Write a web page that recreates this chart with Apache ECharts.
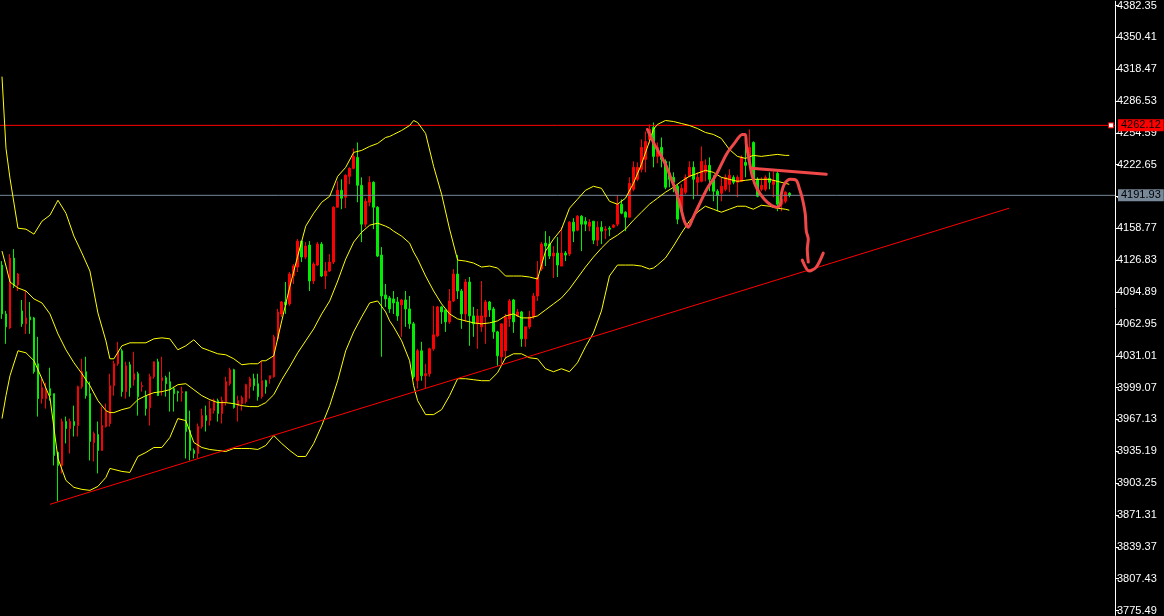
<!DOCTYPE html>
<html>
<head>
<meta charset="utf-8">
<script src="https://cdn.jsdelivr.net/npm/echarts@6/dist/echarts.min.js"></script>
<style>
  html, body { margin: 0; padding: 0; background: #000; }
  #chart { width: 1164px; height: 616px; }
</style>
</head>
<body>
<div id="chart"></div>
<script>
// candles (index 0..197), red = up, green = down
const opens = [
  4122,4073,4059,4129,4102,4076,4063,4070,4069,4023,
  3988,3988,3998,3993,3934,3921,3965,3958,3965,3961,
  4000,4015,3993,3944,3952,3936,3960,3963,4001,4023,
  4036,3995,4022,4007,4013,4000,3991,3979,4010,4025,
  4006,4009,4005,3998,3995,3994,3995,3956,3936,3933,
  3960,3971,3966,3976,3986,3973,3985,4003,4017,3981,
  3983,3985,4000,4008,4003,3990,4006,4008,4010,4048,
  4073,4085,4083,4111,4120,4146,4130,4142,4106,4122,
  4143,4111,4116,4125,4180,4197,4190,4211,4219,4230,
  4202,4163,4185,4205,4180,4132,4092,4089,4088,4085,
  4082,4087,4078,4063,4006,4036,4011,4013,4038,4051,
  4080,4077,4065,4086,4113,4096,4073,4105,4071,4063,
  4060,4070,4085,4078,4055,4030,4036,4068,4087,4071,
  4075,4048,4060,4070,4091,4118,4144,4143,4131,4134,
  4121,4134,4133,4165,4157,4171,4166,4161,4166,4147,
  4160,4157,4159,4160,4163,4183,4175,4170,4198,4208,
  4218,4228,4248,4260,4231,4240,4226,4214,4210,4201,
  4176,4195,4211,4220,4205,4206,4215,4222,4208,4196,
  4194,4198,4203,4210,4205,4206,4225,4226,4245,4208,
  4198,4198,4209,4203,4214,4183,4186,4194
];
const closes = [
  4073,4060,4129,4101,4113,4063,4069,4067,4015,3988,
  3999,3996,3991,3931,3921,3965,3958,3965,3961,4000,
  4015,3991,3945,3953,3936,3961,3975,4001,4023,4036,
  3995,4021,3999,4013,3990,4001,3978,4010,4025,3991,
  4009,4003,3998,3993,3994,3995,3955,3936,3933,3960,
  3971,3966,3978,3986,3973,3986,4005,4017,3979,3986,
  3989,4002,4008,4001,3990,4006,4000,4011,4050,4075,
  4085,4082,4113,4121,4146,4130,4141,4106,4123,4143,
  4111,4116,4125,4180,4197,4189,4212,4219,4231,4202,
  4163,4186,4205,4180,4131,4091,4088,4078,4084,4071,
  4087,4078,4063,4010,4036,4011,4013,4038,4052,4080,
  4075,4065,4086,4113,4096,4073,4105,4071,4063,4071,
  4071,4085,4077,4055,4031,4063,4070,4086,4065,4075,
  4048,4060,4070,4091,4110,4143,4141,4131,4134,4122,
  4134,4132,4165,4156,4171,4163,4163,4165,4147,4160,
  4156,4158,4158,4162,4183,4174,4170,4204,4220,4220,
  4240,4246,4258,4231,4240,4228,4200,4208,4205,4168,
  4199,4210,4220,4208,4210,4226,4222,4208,4196,4192,
  4201,4210,4212,4205,4210,4230,4222,4240,4208,4191,
  4202,4210,4205,4207,4183,4188,4195,4191.93
];
const lows = [
  4068,4043,4058,4099,4096,4060,4053,4053,4013,3970,
  3983,3978,3986,3921,3885,3913,3943,3933,3950,3950,
  3998,3988,3926,3925,3913,3936,3959,3960,3991,4021,
  3990,3988,3990,4001,3971,3995,3971,3961,4008,3991,
  3991,3990,3975,3975,3985,3985,3928,3926,3928,3928,
  3958,3955,3961,3973,3965,3963,3981,4001,3978,3965,
  3976,3983,3988,3996,3986,3988,3993,4003,4009,4046,
  4070,4073,4081,4103,4115,4125,4128,4096,4103,4121,
  4110,4098,4115,4123,4180,4178,4179,4203,4218,4185,
  4145,4160,4181,4158,4130,4030,4080,4074,4073,4066,
  4050,4060,4058,4008,3998,4006,3998,4010,4036,4050,
  4063,4055,4063,4085,4088,4058,4065,4041,4050,4038,
  4055,4043,4070,4048,4021,4023,4028,4060,4054,4070,
  4040,4040,4058,4068,4086,4116,4121,4128,4109,4110,
  4121,4126,4131,4145,4156,4136,4156,4156,4143,4141,
  4143,4148,4151,4159,4161,4173,4156,4170,4196,4206,
  4215,4215,4244,4220,4224,4220,4198,4200,4195,4163,
  4174,4193,4210,4188,4192,4205,4206,4196,4186,4176,
  4186,4196,4195,4203,4190,4206,4210,4222,4206,4190,
  4196,4196,4198,4190,4176,4176,4184,4190
];
const highs = [
  4126,4076,4133,4138,4114,4087,4096,4085,4070,4050,
  4009,4004,4019,3993,3935,3968,3970,3968,3981,4001,
  4028,4030,4005,3955,3965,3980,3983,4013,4026,4045,
  4038,4025,4025,4035,4015,4005,3996,4013,4025,4028,
  4030,4011,4015,4000,3996,4000,3995,3976,3938,3963,
  3978,3981,3986,3988,3988,3990,4010,4019,4018,3991,
  3991,4003,4010,4013,4013,4026,4007,4011,4052,4078,
  4086,4105,4115,4123,4148,4146,4145,4146,4125,4145,
  4145,4125,4133,4181,4206,4208,4213,4220,4239,4245,
  4210,4189,4211,4206,4181,4140,4103,4091,4096,4090,
  4088,4096,4091,4065,4038,4045,4023,4039,4081,4081,
  4081,4077,4098,4118,4132,4098,4108,4110,4080,4078,
  4106,4087,4086,4080,4056,4063,4073,4088,4088,4078,
  4076,4060,4076,4094,4126,4145,4156,4151,4141,4150,
  4160,4136,4166,4169,4172,4172,4170,4168,4166,4166,
  4166,4161,4161,4163,4192,4188,4176,4210,4226,4225,
  4248,4256,4263,4265,4245,4250,4228,4226,4215,4203,
  4203,4213,4226,4226,4215,4241,4228,4230,4212,4198,
  4210,4213,4218,4212,4212,4232,4246,4258,4246,4210,
  4210,4212,4215,4216,4216,4193,4196,4195
];

// bollinger bands, read at these candle indices
const bandIdx = [
  0,1,2,4,6,8,10,12,14,16,18,20,22,24,26,27,28,30,32,
  34,36,38,40,42,44,46,48,50,52,54,56,58,60,62,64,
  65,66,68,70,72,74,76,78,80,82,84,86,88,90,92,94,96,
  97,98,100,102,103,104,106,108,110,112,114,116,118,120,122,124,126,128,
  130,132,134,136,138,140,142,144,146,148,150,152,154,156,158,160,162,
  163,164,166,168,170,172,174,176,178,180,182,184,186,188,190,192,194,196,197
];
const bandUpper = [
  4311,4239,4209,4159,4158,4153,4166,4172,4187,4174,4151,4134,4116,4074,4046,4028,4028,4041,4044,
  4044,4044,4048,4049,4048,4037,4041,4047,4039,4036,4033,4032,4028,4022,4023,4023,
  4026,4026,4031,4066,4100,4131,4161,4174,4185,4191,4211,4220,4235,4237,4241,4244,4250,
  4251,4253,4257,4262,4267,4265,4254,4221,4193,4158,4127,4126,4124,4120,4121,4119,4111,4111,
  4111,4110,4108,4136,4148,4158,4179,4188,4197,4201,4199,4186,4183,4189,4204,4223,4246,
  4258,4263,4267,4266,4264,4262,4259,4255,4253,4249,4238,4231,4229,4232,4231,4232,4233,4232,4232
];
const bandMid = [
  4136,4121,4105,4099,4096,4088,4084,4073,4053,4037,4024,4013,4001,3986,3976,3974,3974,3977,3979,
  3987,3991,3994,3995,3997,4002,4003,3997,3991,3987,3984,3984,3983,3981,3980,3980,
  3982,3984,3992,4007,4020,4034,4046,4058,4073,4086,4106,4128,4145,4155,4162,4164,4161,
  4159,4156,4151,4144,4135,4128,4111,4096,4083,4073,4068,4066,4064,4063,4064,4066,4071,4073,
  4069,4069,4071,4077,4083,4089,4098,4109,4120,4130,4139,4147,4152,4158,4167,4175,4183,
  4186,4189,4195,4200,4206,4211,4214,4217,4215,4210,4208,4206,4207,4208,4208,4208,4206,4204,4203
];
const bandLower = [
  3968,3991,4011,4036,4034,4026,4008,3989,3928,3906,3899,3897,3896,3900,3909,3918,3917,3915,3914,
  3930,3934,3939,3939,3949,3968,3966,3944,3939,3937,3936,3935,3938,3938,3938,3937,
  3939,3941,3951,3943,3936,3930,3930,3943,3961,3981,4006,4036,4055,4070,4084,4086,4075,
  4066,4060,4046,4026,4001,3986,3972,3972,3977,3991,4008,4008,4007,4006,4006,4014,4029,4033,
  4033,4029,4028,4018,4015,4018,4015,4024,4040,4054,4076,4111,4122,4122,4122,4121,4118,
  4119,4122,4129,4141,4154,4166,4175,4181,4178,4175,4178,4181,4181,4178,4182,4181,4179,4178,4177
];

// support trendline (candle index, price)
const trendIdx = [12, 252];
const trendVal = [3882, 4179];

// horizontal levels
const resistance = 4262.12;
const lastPrice = 4191.93;

// hand drawn marks (candle index, price)
const sketchZigzag = [
  [161.5,4258],[163.25,4243],[165,4231],[166.25,4221],[167.5,4208],[168.75,4195],
  [169.75,4181],[170.75,4166],[171.75,4160],[172.75,4168],[174.5,4183],[176.5,4199],
  [178.75,4213],[181.25,4233],[183.25,4244],[185.25,4253],[186,4253],[186.25,4243],
  [187,4226],[187.75,4211],[189,4198],[190.75,4188],[192.5,4182],[194,4180],
  [194.75,4183],[195,4193],[195.75,4203],[197.25,4208],[198.75,4207],[199.5,4199],
  [200.25,4189],[201,4173],[201.25,4156],[201.75,4148],[201.5,4138],[201.75,4125]
];
const sketchArrow = [[200.25,4127],[202,4116],[203.75,4120],[205.5,4134]];
const sketchLevel = [[187.5,4219],[206.25,4213]];

// y axis tick labels
const yTicks = [4382.35,4350.41,4318.47,4286.53,4254.59,4222.65,4190.71,4158.77,4126.83,
  4094.89,4062.95,4031.01,3999.07,3967.13,3935.19,3903.25,3871.31,3839.37,3807.43,3775.49];

const slots = 279;
const categories = [];
for (let i = 0; i < slots; i++) categories.push(String(i));

const candleData = opens.map((o, i) => [o, closes[i], lows[i], highs[i]]);
const pairs = (xs, ys) => xs.map((x, i) => [x, ys[i]]);

const FONT = '"Liberation Sans", Arial, sans-serif';
const sketchStyle = { color: '#f04848', width: 3, cap: 'round', join: 'round' };

// full width horizontal level with a price tag on the right axis
function levelSeries(value, color, withMarker) {
    let s = {
        type: 'line', xAxisIndex: 1,
        data: [[-0.5, value], [slots - 0.5, value]],
        symbol: 'none',
        lineStyle: { color: color, width: 1 },
        z: 3,
        markLine: {
            silent: true,
            symbol: ['none', 'none'],
            lineStyle: { color: 'rgba(0,0,0,0)', width: 1 },
            label: {
                show: true,
                position: 'end', distance: 3, formatter: value.toFixed(2),
                backgroundColor: color, color: '#000',
                fontSize: 11, fontFamily: FONT, padding: [1, 3, 0, 3]
            },
            data: [{ yAxis: value }]
        }
    };
    if (withMarker) {
        s.markPoint = {
            silent: true,
            symbol: 'rect',
            symbolSize: 5,
            label: { show: false },
            itemStyle: { color: '#fff', borderColor: color, borderWidth: 1 },
            data: [{ coord: [slots - 1.5, value] }]
        };
    }
    return s;
}

let myChart = echarts.init(document.getElementById('chart'));
let option = {
    animation: false,
    backgroundColor: '#000',
    grid: { left: 0, right: 49, top: 0, bottom: 0 },
    xAxis: [
        { type: 'category', data: categories, show: false, boundaryGap: true },
        { type: 'value', min: -0.5, max: slots - 0.5, show: false }
    ],
    yAxis: {
        type: 'value',
        position: 'right',
        min: 3770.62,
        max: 4386.62,
        scale: true,
        splitLine: { show: false },
        axisLine: { show: true, onZero: false, lineStyle: { color: '#fff', width: 1 } },
        axisTick: { show: true, length: 4, lineStyle: { color: '#fff' }, customValues: yTicks },
        axisLabel: {
            color: '#fff', fontSize: 11, fontFamily: FONT, margin: 2,
            customValues: yTicks,
            formatter: v => v.toFixed(2)
        }
    },
    series: [
        levelSeries(resistance, '#ff0000', true),
        levelSeries(lastPrice, '#778899', false),
        {
            type: 'candlestick',
            data: candleData,
            barWidth: 2,
            itemStyle: {
                color: '#ff0000', color0: '#00ee00',
                borderColor: '#ff0000', borderColor0: '#00ee00',
                borderWidth: 1
            }
        },
        {
            type: 'line', xAxisIndex: 1, data: pairs(bandIdx, bandUpper),
            symbol: 'none', lineStyle: { color: '#ffff00', width: 1 }
        },
        {
            type: 'line', xAxisIndex: 1, data: pairs(bandIdx, bandMid),
            symbol: 'none', lineStyle: { color: '#ffff00', width: 1 }
        },
        {
            type: 'line', xAxisIndex: 1, data: pairs(bandIdx, bandLower),
            symbol: 'none', lineStyle: { color: '#ffff00', width: 1 }
        },
        {
            type: 'line', xAxisIndex: 1, data: pairs(trendIdx, trendVal),
            symbol: 'none', lineStyle: { color: '#ff0000', width: 1 }
        },
        {
            type: 'line', xAxisIndex: 1, data: sketchZigzag, smooth: 0.3,
            symbol: 'none', lineStyle: sketchStyle, z: 5
        },
        {
            type: 'line', xAxisIndex: 1, data: sketchArrow, smooth: 0.3,
            symbol: 'none', lineStyle: sketchStyle, z: 5
        },
        {
            type: 'line', xAxisIndex: 1, data: sketchLevel,
            symbol: 'none', lineStyle: sketchStyle, z: 5
        }
    ]
};
myChart.setOption(option, true);
window.addEventListener('resize', function() {
    myChart.resize();
});
</script>
</body>
</html>
